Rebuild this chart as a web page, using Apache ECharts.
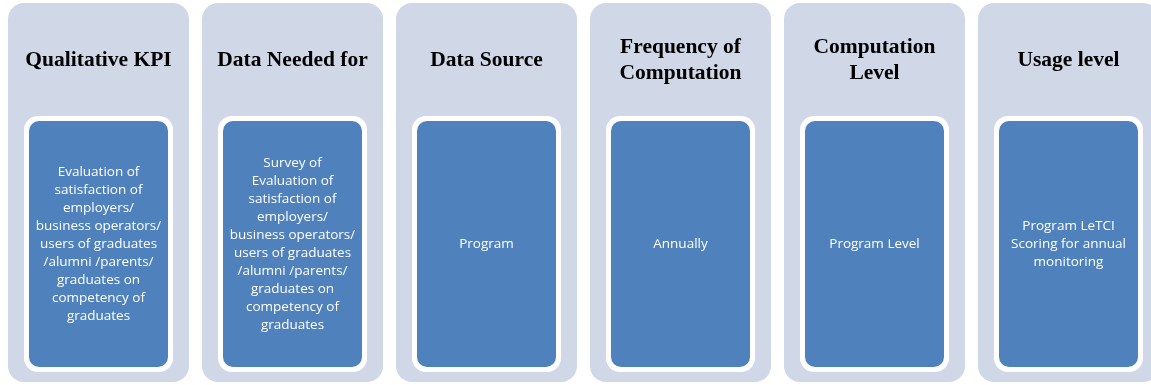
<!DOCTYPE html>
<html>
<head>
<meta charset="utf-8">
<script src="https://cdn.jsdelivr.net/npm/echarts@6/dist/echarts.min.js"></script>
<style>
html,body{margin:0;padding:0;background:#fff;}
#chart{width:1151px;height:385px;}
</style>
</head>
<body>
<div id="chart"></div>
<script>
// Column headings (top of each panel)
var categories = [
  'Qualitative KPI',
  'Data Needed for',
  'Data Source',
  'Frequency of\nComputation',
  'Computation\nLevel',
  'Usage level'
];
// Body text of each inner box
var bodies = [
  'Evaluation of\nsatisfaction of\nemployers/\nbusiness operators/\nusers of graduates\n/alumni /parents/\ngraduates on\ncompetency of\ngraduates',
  'Survey of\nEvaluation of\nsatisfaction of\nemployers/\nbusiness operators/\nusers of graduates\n/alumni /parents/\ngraduates on\ncompetency of\ngraduates',
  'Program',
  'Annually',
  'Program Level',
  'Program LeTCI\nScoring for annual\nmonitoring'
];
// Column index for each panel
var columns = [0, 1, 2, 3, 4, 5];

var data = columns.map(function (c, i) { return [c, categories[i], bodies[i]]; });

var chart = echarts.init(document.getElementById('chart'), null, {renderer: 'canvas'});

function renderItem(params, api) {
  var x = api.value(0);
  var band = api.size([1, 0])[0];          // pixel width of one column step
  var cx = api.coord([x, 0])[0];
  var top = api.coord([x, 3])[1];
  var bottom = api.coord([x, 382])[1];
  var panelW = band - 13;
  var innerTop = api.coord([x, 121])[1];
  var innerBot = api.coord([x, 367])[1];
  var innerW = 139;
  var rim = 5;
  var titleY = api.coord([x, 60])[1];
  var i = params.dataIndex;
  return {
    type: 'group',
    children: [
      {
        type: 'rect',
        shape: {x: cx - panelW / 2, y: top, width: panelW, height: bottom - top, r: 16},
        style: {fill: '#D0D7E7'}
      },
      {
        type: 'text',
        x: cx, y: titleY,
        style: {
          text: categories[i],
          fill: '#000',
          font: 'bold 21.5px "Liberation Serif", serif',
          align: 'center', verticalAlign: 'middle',
          lineHeight: 26
        }
      },
      {
        type: 'rect',
        shape: {x: cx - innerW / 2 - rim, y: innerTop - rim, width: innerW + 2 * rim, height: innerBot - innerTop + 2 * rim, r: 14},
        style: {fill: '#FFFFFF'}
      },
      {
        type: 'rect',
        shape: {x: cx - innerW / 2, y: innerTop, width: innerW, height: innerBot - innerTop, r: 10},
        style: {fill: '#4F81BD'}
      },
      {
        type: 'text',
        x: cx, y: (innerTop + innerBot) / 2,
        style: {
          text: bodies[i],
          fill: '#FFFFFF',
          font: 'normal 13.5px "Open Sans", sans-serif',
          align: 'center', verticalAlign: 'middle',
          lineHeight: 18
        }
      }
    ]
  };
}

chart.setOption({
  animation: false,
  backgroundColor: '#FFFFFF',
  grid: {left: 1.5, top: 0, right: 0, bottom: 0},
  xAxis: {type: 'value', min: -0.5, max: -0.5 + 1149.5 / 194, show: false},
  yAxis: {type: 'value', min: 0, max: 385, inverse: true, show: false},
  series: [{
    type: 'custom',
    renderItem: renderItem,
    data: data,
    encode: {x: 0},
    clip: false
  }]
});
</script>
</body>
</html>
